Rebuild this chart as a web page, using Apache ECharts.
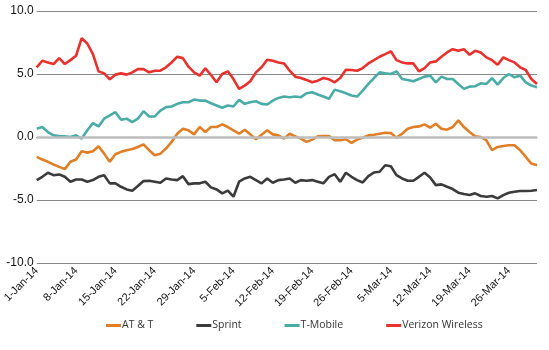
<!DOCTYPE html>
<html>
<head>
<meta charset="utf-8">
<script src="https://cdn.jsdelivr.net/npm/echarts@6/dist/echarts.min.js"></script>
<style>
  html, body { margin: 0; padding: 0; background: #fff; }
  #chart { width: 549px; height: 350px; }
</style>
</head>
<body>
<div id="chart"></div>
<script>
const monthNames = [ 'Jan', 'Feb', 'Mar' ]
const monthDays = [ 31, 28, 31 ]

// daily categories, 1-Jan-14 .. 31-Mar-14
const dates = []
monthDays.forEach( ( n, m ) => {
  for ( let d = 1; d <= n; d++ ) {
    dates.push( d + '-' + monthNames[ m ] + '-14' )
  }
} )

const yTicks = { min : -10, max : 10, interval : 5 }

const att = [
  -1.58, -1.79, -1.97, -2.18, -2.37, -2.55, -1.97, -1.79, -1.13, -1.24, -1.13, -0.74, -1.32, -1.97, -1.37, -1.18, -1.05, -0.95, -0.79, -0.58, -1.05, -1.45, -1.32,
  -0.92, -0.39, 0.26, 0.66, 0.53, 0.21, 0.79, 0.39, 0.79, 0.79, 1.0, 0.79, 0.53, 0.26, 0.58, 0.21, -0.18, 0.18, 0.53, 0.21, 0.13, -0.13,
  0.26, 0.05, -0.13, -0.39, -0.21, 0.05, 0.08, 0.08, -0.26, -0.26, -0.18, -0.47, -0.21, -0.05, 0.13, 0.18, 0.26, 0.34, 0.32, -0.05, 0.26, 0.66,
  0.79, 0.84, 1.0, 0.74, 1.05, 0.66, 0.58, 0.79, 1.32, 0.79, 0.39, 0.05, 0.0, -0.26, -1.05, -0.79, -0.71, -0.66, -0.66, -1.05, -1.58, -2.11, -2.24
]

const sprint = [
  -3.42, -3.16, -2.84, -3.03, -2.97, -3.16, -3.55, -3.37, -3.37, -3.55, -3.42, -3.16, -3.03, -3.68, -3.68, -3.95, -4.16, -4.26, -3.89, -3.5, -3.47, -3.55, -3.63,
  -3.29, -3.37, -3.42, -3.11, -3.74, -3.68, -3.68, -3.55, -4.0, -4.16, -4.47, -4.26, -4.74, -3.55, -3.29, -3.16, -3.42, -3.68, -3.29, -3.63, -3.42, -3.37,
  -3.29, -3.63, -3.42, -3.47, -3.42, -3.55, -3.68, -3.16, -2.95, -3.55, -2.84, -3.16, -3.42, -3.61, -3.11, -2.82, -2.76, -2.24, -2.32, -3.03, -3.29, -3.47,
  -3.47, -3.16, -2.84, -3.21, -3.82, -3.76, -3.95, -4.13, -4.42, -4.53, -4.61, -4.47, -4.68, -4.74, -4.68, -4.87, -4.61, -4.42, -4.34, -4.29, -4.29, -4.26, -4.21
]

const tmobile = [
  0.66, 0.79, 0.39, 0.13, 0.08, 0.05, 0.0, 0.13, -0.13, 0.53, 1.1, 0.84, 1.45, 1.71, 1.97, 1.37, 1.45, 1.18, 1.45, 2.05, 1.63, 1.63, 2.1,
  2.37, 2.42, 2.63, 2.76, 2.76, 2.97, 2.89, 2.89, 2.68, 2.5, 2.32, 2.5, 2.42, 2.95, 2.63, 2.76, 2.84, 2.63, 2.58, 2.89, 3.1, 3.21,
  3.16, 3.21, 3.16, 3.47, 3.55, 3.37, 3.21, 3.03, 3.76, 3.63, 3.47, 3.29, 3.21, 3.68, 4.21, 4.68, 5.13, 5.05, 5.0, 5.21, 4.6, 4.53,
  4.42, 4.6, 4.79, 4.87, 4.34, 4.79, 4.6, 4.6, 4.21, 3.82, 4.0, 4.03, 4.26, 4.21, 4.68, 4.16, 4.68, 5.0, 4.74, 4.87, 4.34, 4.08, 3.95
]

const verizon = [
  5.53, 6.05, 5.92, 5.79, 6.26, 5.79, 6.1, 6.45, 7.84, 7.42, 6.58, 5.21, 5.05, 4.58, 4.95, 5.05, 4.95, 5.13, 5.39, 5.39, 5.13, 5.26, 5.26,
  5.53, 5.92, 6.37, 6.26, 5.58, 5.13, 4.87, 5.45, 4.92, 4.34, 5.0, 5.21, 4.6, 3.82, 4.08, 4.42, 5.13, 5.53, 6.13, 6.05, 5.92, 5.84,
  5.26, 4.79, 4.68, 4.53, 4.34, 4.47, 4.68, 4.58, 4.34, 4.68, 5.34, 5.32, 5.26, 5.47, 5.84, 6.1, 6.37, 6.58, 6.8, 6.1, 5.92, 5.84,
  5.84, 5.21, 5.47, 5.92, 6.0, 6.37, 6.71, 6.97, 6.84, 6.97, 6.53, 6.84, 6.71, 6.32, 6.1, 5.74, 6.32, 6.1, 5.92, 5.53, 5.32, 4.6, 4.21
]

const seriesNames = [ 'AT & T', 'Sprint', 'T-Mobile', 'Verizon Wireless' ]
const seriesColors = [ '#e07f26', '#3b3b3b', '#4aaca7', '#e8302c' ]
const seriesData = [ att, sprint, tmobile, verizon ]

const chart = echarts.init( document.getElementById( 'chart' ) )

const lineSeries = seriesNames.map( ( name, i ) => ( {
  name : name,
  type : 'line',
  data : seriesData[ i ],
  showSymbol : false,
  symbol : 'none',
  color : seriesColors[ i ],
  lineStyle : { width : 2.6, color : seriesColors[ i ] },
  animation : false
} ) )

chart.setOption( {
  animation : false,
  grid : {
    left : 33,
    right : 12,
    top : 11,
    bottom : 87
  },
  legend : {
    data : seriesNames,
    bottom : 14,
    left : 101,
    itemGap : 43,
    itemWidth : 15,
    itemHeight : 3,
    icon : 'rect',
    textStyle : {
      fontFamily : 'Open Sans',
      fontSize : 10.5,
      color : '#333',
      padding : [ 0, 0, 0, -4 ]
    }
  },
  xAxis : {
    type : 'category',
    data : dates,
    boundaryGap : false,
    axisLine : { lineStyle : { color : '#888', width : 1 } },
    axisTick : { show : false },
    axisLabel : {
      interval : 6,
      rotate : 45,
      margin : 6,
      fontFamily : 'Liberation Sans',
      fontSize : 11,
      color : '#111'
    }
  },
  yAxis : {
    type : 'value',
    min : yTicks.min,
    max : yTicks.max,
    interval : yTicks.interval,
    axisLine : { show : false },
    axisTick : { show : false },
    axisLabel : {
      margin : 3,
      fontFamily : 'Liberation Sans',
      fontSize : 12,
      color : '#111',
      formatter : v => v.toFixed( 1 )
    },
    splitLine : { lineStyle : { color : '#888', width : 1 } }
  },
  series : [
    {
      name : 'zero',
      type : 'line',
      data : [],
      silent : true,
      markLine : {
        silent : true,
        symbol : 'none',
        label : { show : false },
        lineStyle : { color : '#bdbdbd', width : 2.5, type : 'solid' },
        data : [ { yAxis : 0 } ]
      }
    },
    ...lineSeries
  ]
} )
</script>
</body>
</html>
